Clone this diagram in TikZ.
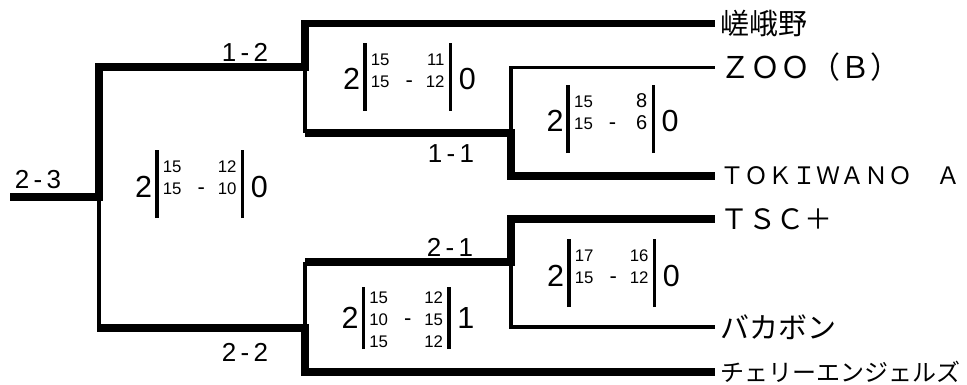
\documentclass[tikz,border=0pt]{standalone}
\usepackage{fontspec}
\setmainfont{Liberation Sans}
\newfontfamily\jp{Noto Sans CJK JP}

\newcommand{\bigdig}[1]{{\fontsize{30.5}{30.5}\selectfont #1}}
\newcommand{\onedig}[1]{\makebox[18pt][r]{\fontsize{20}{20}\selectfont #1}}
\newcommand{\dsh}{{\fontsize{22}{22}\selectfont -}}
\newcommand{\scorebox}[4][47]{%
  \bigdig{#2}\hspace{3pt}\vrule width 3.5pt height #1pt depth 21pt\hspace{4.2pt}%
  \raisebox{3pt}{\fontsize{16.8}{22}\selectfont
   \begin{tabular}{@{}l@{\hspace{16pt}}c@{\hspace{13pt}}r@{}}#3\end{tabular}}%
  \hspace{4.3pt}\vrule width 3.5pt height #1pt depth 21pt\hspace{6.5pt}\bigdig{#4}}

\begin{document}
\begin{tikzpicture}[x=1pt,y=-1pt,
    win/.style={line width=7.5pt,line join=miter},
    lose/.style={line width=3.5pt},
    team/.style={anchor=west,inner ysep=0pt,inner xsep=5pt},
    round/.style={font=\fontsize{26}{26}\selectfont,inner sep=0pt},
    score/.style={inner sep=0pt,anchor=base}]
  \useasboundingbox (0,0) rectangle (967,385);

  % junctions
  \coordinate (r0)  at (10,197);
  \coordinate (fin) at (99,197);
  \coordinate (sa)  at (305,67);
  \coordinate (sab) at (305,133);
  \coordinate (sb)  at (305,328);
  \coordinate (sbt) at (305,262);
  \coordinate (qa)  at (511,133);
  \coordinate (qb)  at (511,262);

  % teams
  \node[team] (t1) at (715,23.5) {\jp\fontsize{29}{29}\selectfont 嵯峨野};
  \node[team] (t2) at (715,67.5) {\jp\fontsize{30}{30}\selectfont ＺＯＯ（Ｂ）};
  \node[team] (t3) at (715,176)  {\jp\fontsize{24}{24}\selectfont ＴＯＫＩＷＡＮＯ　Ａ};
  \node[team] (t4) at (715,219)  {\jp\fontsize{28}{28}\selectfont ＴＳＣ＋};
  \node[team] (t5) at (715,327)  {\jp\fontsize{29}{29}\selectfont バカボン};
  \node[team] (t6) at (715,372)  {\jp\fontsize{24}{24}\selectfont チェリーエンジェルズ};

  % bracket
  \draw[win]  (r0) -- (fin) |- (sa) |- (t1.west);
  \draw[lose] (sa) -- (sab);
  \draw[win]  (sab) -- (qa) |- (t3.west);
  \draw[lose] (qa) |- (t2.west);
  \draw[lose] (fin) -- (fin |- sb);
  \draw[win]  ([xshift=-2pt]fin |- sb) -- (sb) |- (t6.west);
  \draw[lose] (sb) -- (sbt);
  \draw[win]  (sbt) -- (qb) |- (t4.west);
  \draw[lose] (qb) |- (t5.west);

  % rounds
  \node[round] (l23) at (38,180)  {2\,-\,3};
  \node[round] (l12) at (245,52)  {1\,-\,2};
  \node[round] (l11) at (451,154) {1\,-\,1};
  \node[round] (l21) at (450,247) {2\,-\,1};
  \node[round] (l22) at (245,352) {2\,-\,2};

  % scores
  \node[score] (m23) at (201.5,197) {\scorebox{2}{15 & & 12\\ 15 & \dsh & 10\\ & &}{0}};
  \node[score] (m12) at (409.5,90)  {\scorebox{2}{15 & & 11\\ 15 & \dsh & 12\\ & &}{0}};
  \node[score] (m11) at (612.5,132) {\scorebox{2}{15 & & \onedig{8}\\ 15 & \dsh & \onedig{6}\\ & &}{0}};
  \node[score] (m21) at (613.5,286) {\scorebox{2}{17 & & 16\\ 15 & \dsh & 12\\ & &}{0}};
  \node[score] (m22) at (408,328)   {\scorebox[41]{2}{15 & & 12\\ 10 & \dsh & 15\\ 15 & & 12}{1}};
\end{tikzpicture}
\end{document}
